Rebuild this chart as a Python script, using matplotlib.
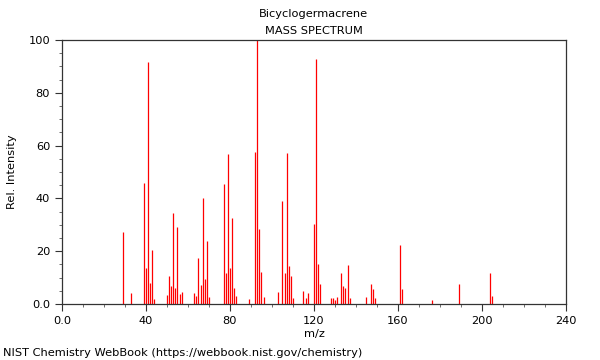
import matplotlib
matplotlib.use("Agg")
import matplotlib.pyplot as plt
from matplotlib.ticker import MultipleLocator, FuncFormatter

# m/z peaks and relative intensities
mz = [29, 33, 39, 40, 41, 42, 43, 44,
      50, 51, 52, 53, 54, 55, 56, 57,
      63, 64, 65, 66, 67, 68, 69, 70,
      77, 78, 79, 80, 81, 82, 83, 89,
      92, 93, 94, 95, 96,
      103, 105, 106, 107, 108, 109, 110,
      115, 116, 117, 120, 121, 122, 123,
      128, 129, 130, 131, 133, 134, 135, 136, 137,
      145, 147, 148, 149, 161, 162, 176, 189, 204, 205]
intensity = [27.4, 4.0, 46.0, 13.5, 91.5, 7.8, 20.4, 1.8,
             3.4, 10.6, 6.8, 34.6, 5.9, 29.3, 3.8, 4.4,
             4.3, 3.0, 17.3, 7.2, 40.3, 9.3, 24.0, 2.8,
             45.5, 11.9, 56.9, 13.8, 32.4, 6.2, 3.2, 1.9,
             57.4, 100.0, 28.4, 12.0, 2.5,
             4.4, 39.0, 11.9, 57.3, 14.5, 10.6, 2.1,
             4.9, 2.4, 4.3, 30.3, 92.9, 15.0, 7.6,
             2.1, 2.1, 1.5, 2.5, 11.9, 7.0, 5.9, 14.6, 2.4,
             2.5, 7.6, 5.6, 2.4, 22.5, 5.7, 1.5, 7.6, 11.9, 3.0]

fig = plt.figure(figsize=(6, 3.6), dpi=100)
ax = fig.add_axes([0.1033, 0.1556, 0.84, 0.7333])

ax.vlines(mz, 0, intensity, colors="#ff0000", linewidth=0.9)

ax.set_xlim(0, 240)
ax.set_ylim(0, 100)
ax.xaxis.set_major_locator(MultipleLocator(40))
ax.xaxis.set_minor_locator(MultipleLocator(10))
ax.yaxis.set_major_locator(MultipleLocator(20))
ax.yaxis.set_minor_locator(MultipleLocator(5))

fmt = FuncFormatter(lambda v, p: "0.0" if v == 0 else f"{int(v)}")
ax.xaxis.set_major_formatter(fmt)
ax.yaxis.set_major_formatter(fmt)

ax.tick_params(which="major", length=5, width=0.8, labelsize=8.2, colors="#333333")
ax.tick_params(which="minor", length=2.5, width=0.6, colors="#555555")
ax.tick_params(labelcolor="black")
for s in ax.spines.values():
    s.set_color("#333333")
    s.set_linewidth(0.9)

ax.set_xlabel("m/z", fontsize=8.2, labelpad=2)
ax.set_ylabel("Rel. Intensity", fontsize=8.2, labelpad=8.5)

fig.text(0.523, 0.962, "Bicyclogermacrene", ha="center", va="center", fontsize=8.2)
fig.text(0.523, 0.915, "MASS SPECTRUM", ha="center", va="center", fontsize=8.2)
fig.text(0.005, 0.019, "NIST Chemistry WebBook (https://webbook.nist.gov/chemistry)",
         ha="left", va="center", fontsize=8.2)

fig.savefig("out.png")
plt.close(fig)
